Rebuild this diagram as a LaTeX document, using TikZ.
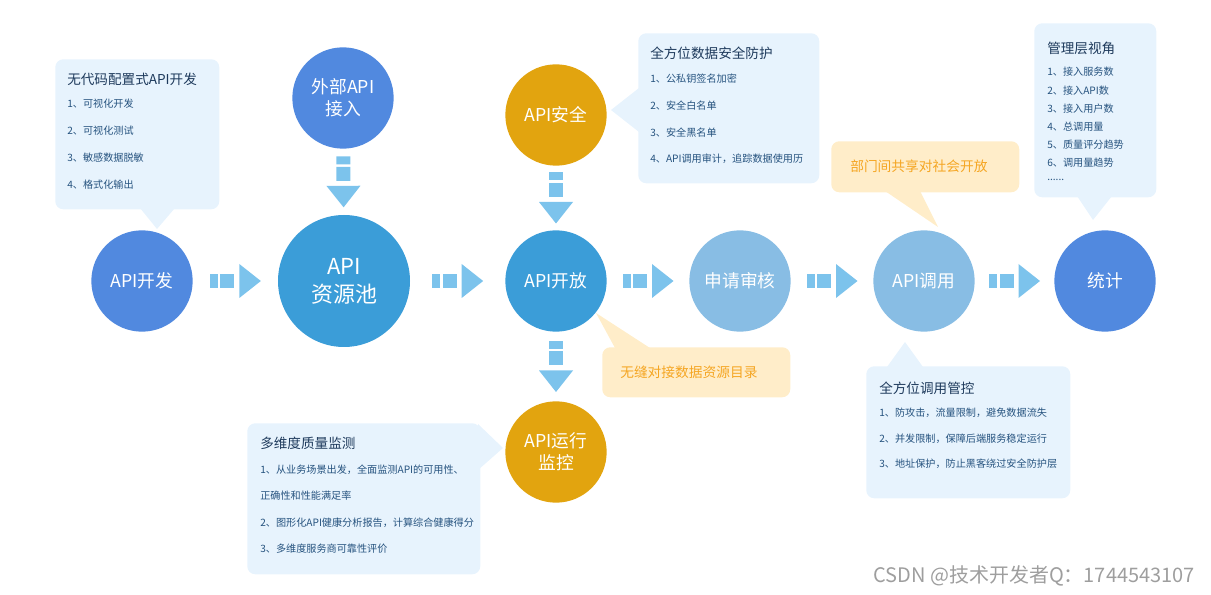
\documentclass[tikz,border=0pt]{standalone}
\usepackage{fontspec}
\setmainfont{Noto Sans CJK SC}
\usetikzlibrary{positioning}

\definecolor{blueA}{HTML}{5189DF}
\definecolor{blueB}{HTML}{3B9DD8}
\definecolor{blueC}{HTML}{88BDE4}
\definecolor{gold}{HTML}{E2A40F}
\definecolor{arrblue}{HTML}{7CC3EC}
\definecolor{tipblue}{HTML}{E7F3FD}
\definecolor{tipyellow}{HTML}{FFEDC9}
\definecolor{titlecol}{HTML}{1E3A5C}
\definecolor{itemcol}{HTML}{26537F}
\definecolor{orangetxt}{HTML}{F5A623}

% dashed block arrow, points along +x
\tikzset{flowarr/.pic={
  \fill[arrblue] (-25.5,-7) rectangle (-17.5,7);
  \fill[arrblue] (-15,-7) rectangle (-1,7);
  \fill[arrblue] (4,-17) -- (25.5,0) -- (4,17) -- cycle;
}}

\begin{document}
\begin{tikzpicture}[x=0.75pt, y=-0.75pt,
  circ/.style={circle, minimum size=76pt, inner sep=0pt, align=center,
               text=white, font=\fontsize{13.3}{16.5}\selectfont},
  bubble/.style={fill=tipblue, rounded corners=6pt, anchor=north west,
                 inner sep=0pt},
  ybubble/.style={bubble, fill=tipyellow},
  title/.style={anchor=west, inner sep=0pt, text=titlecol,
                font=\fontsize{10.2}{12}\selectfont},
  item/.style={anchor=west, inner sep=0pt, text=itemcol,
               font=\fontsize{7.6}{9}\selectfont},
  note/.style={anchor=west, inner sep=0pt, text=orangetxt,
               font=\fontsize{10.3}{12}\selectfont},
  flow/.style={pos=.5, sloped, allow upside down}
]
\useasboundingbox (0,0) rectangle (1211,595);

% circles
\node[circ, fill=blueA] (dev)   at (142,281) {API开发};
\node[circ, fill=blueB, minimum size=99pt,
      font=\fontsize{16.5}{21}\selectfont] (pool) at (344,281) {API\\资源池};
\node[circ, fill=blueA] (ext)   at (343,98)  {外部API\\接入};
\node[circ, fill=gold]  (sec)   at (556,115) {API安全};
\node[circ, fill=blueB] (open)  at (556,281) {API开放};
\node[circ, fill=blueC] (audit) at (740,281) {申请审核};
\node[circ, fill=blueC] (call)  at (924,281) {API调用};
\node[circ, fill=blueA] (stat)  at (1105,281) {统计};
\node[circ, fill=gold]  (mon)   at (556,452) {API运行\\监控};

% flow arrows
\path (dev)   -- (pool)  pic[flow] {flowarr};
\path (pool)  -- (open)  pic[flow] {flowarr};
\path (open)  -- (audit) pic[flow] {flowarr};
\path (audit) -- (call)  pic[flow] {flowarr};
\path (call)  -- (stat)  pic[flow] {flowarr};
\path (ext)   -- (pool)  pic[flow] {flowarr};
\path (sec)   -- (open)  pic[flow] {flowarr};
\path (open)  -- (mon)   pic[flow] {flowarr};

% API开发 bubble
\node[bubble, minimum width=123pt, minimum height=112.5pt] (devbox) at (55,59) {};
\fill[tipblue] (140,208) -- (157,229) -- (175,208) -- cycle;
\node[title] (devtitle) at (67,79) {无代码配置式API开发};
\foreach \t/\y [count=\i] in {1、可视化开发/104, 2、可视化测试/131,
    3、敏感数据脱敏/158, 4、格式化输出/185}
  \node[item] (dev\i) at (67,\y) {\t};

% API安全 bubble
\node[bubble, minimum width=135.75pt, minimum height=112.5pt] (secbox) at (638,33) {};
\fill[tipblue] (639,88) -- (611,110) -- (639,132) -- cycle;
\node[title] (sectitle) at (650,53) {全方位数据安全防护};
\foreach \t/\y [count=\i] in {1、公私钥签名加密/79, 2、安全白名单/106,
    3、安全黑名单/133, 4、API调用审计，追踪数据使用历/159}
  \node[item] (sec\i) at (650,\y) {\t};

% 统计 bubble
\node[bubble, minimum width=91.5pt, minimum height=130.5pt] (mgmtbox) at (1034,23) {};
\fill[tipblue] (1077,196) -- (1093,220) -- (1112,196) -- cycle;
\node[title] (mgmttitle) at (1047,48) {管理层视角};
\foreach \t/\y [count=\i] in {1、接入服务数/72, 2、接入API数/91, 3、接入用户数/109,
    4、总调用量/127, 5、质量评分趋势/145, 6、调用量趋势/163}
  \node[item] (mgmt\i) at (1047,\y) {\t};
\node[item] (mgmtmore) at (1047,180) {......};

% API调用 notes
\node[ybubble, minimum width=141pt, minimum height=38.25pt] (sharebox) at (831,141) {};
\fill[tipyellow] (885,191) -- (938,227) -- (920,191) -- cycle;
\node[note] (share) at (850,166) {部门间共享对社会开放};

\node[bubble, minimum width=153pt, minimum height=99pt] (ctrlbox) at (866,366) {};
\fill[tipblue] (887,367) -- (905,342) -- (923,367) -- cycle;
\node[title] (ctrltitle) at (879,388) {全方位调用管控};
\foreach \t/\y [count=\i] in {1、防攻击，流量限制，避免数据流失/413,
    2、并发限制，保障后端服务稳定运行/439, 3、地址保护，防止黑客绕过安全防护层/464}
  \node[item] (ctrl\i) at (879,\y) {\t};

% API开放 note
\node[ybubble, minimum width=141pt, minimum height=37.5pt] (catbox) at (602,347) {};
\fill[tipyellow] (615,348) -- (596,313) -- (650,348) -- cycle;
\node[note] (cat) at (620,372) {无缝对接数据资源目录};

% API运行监控 bubble
\node[bubble, minimum width=174.75pt, minimum height=113.25pt] (monbox) at (247,423) {};
\fill[tipblue] (478,424) -- (503,448) -- (478,470) -- cycle;
\node[title] (montitle) at (260,443) {多维度质量监测};
\foreach \t/\y [count=\i] in {1、从业务场景出发，全面监测API的可用性、/470,
    正确性和性能满足率/496, 2、图形化API健康分析报告，计算综合健康得分/523,
    3、多维度服务商可靠性评价/549}
  \node[item] (mon\i) at (260,\y) {\t};

% watermark
\node[anchor=west, inner sep=0pt, text=black!38, font=\fontsize{15}{17}\selectfont]
  (mark) at (873,576) {CSDN @技术开发者Q：1744543107};
\end{tikzpicture}
\end{document}
